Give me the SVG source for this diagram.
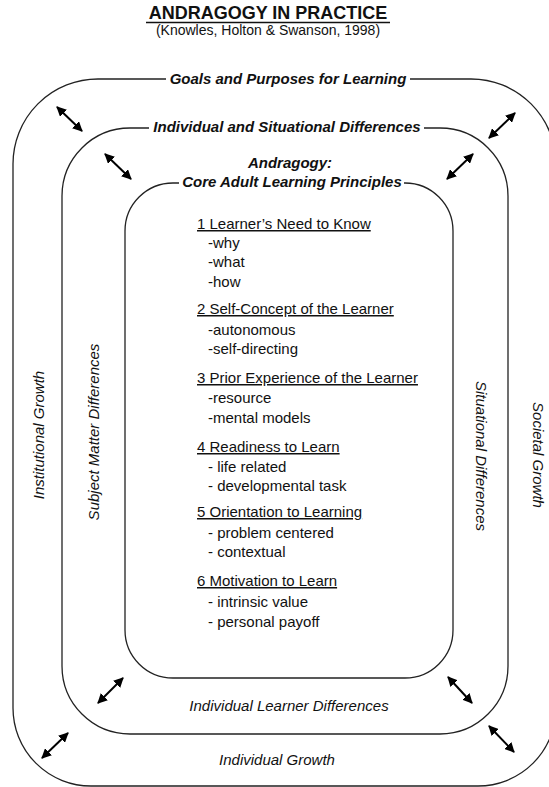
<svg xmlns="http://www.w3.org/2000/svg" width="549" height="787" viewBox="0 0 549 787">
<style>
.t{font-family:"Liberation Sans",Arial,sans-serif;fill:#111}
.bi{font-weight:bold;font-style:italic;font-size:15px}
.it{font-style:italic;font-size:15px}
.b{font-size:15px}
.u{text-decoration:underline}
.ring{fill:none;stroke:#222;stroke-width:1.3}
.arr{stroke:#000;stroke-width:2}
</style>
<defs>
<marker id="ah" viewBox="0 0 10 10" refX="9" refY="5" markerWidth="10" markerHeight="10" markerUnits="userSpaceOnUse" orient="auto-start-reverse">
<path d="M0,0 L10,5 L0,10 z" fill="#000"/>
</marker>
</defs>
<rect width="549" height="787" fill="#fff"/>
<g id="title">
<text class="t" x="268" y="19" text-anchor="middle" font-weight="bold" font-size="18">ANDRAGOGY IN PRACTICE</text>
<line x1="146" y1="22.5" x2="390" y2="22.5" stroke="#111" stroke-width="1.6"/>
<text class="t" x="268" y="35" text-anchor="middle" font-size="14">(Knowles, Holton &amp; Swanson, 1998)</text>
</g>
<g id="outer">
<path class="ring" d="M166,79 H98 A85,85 0 0 0 13,164 V708 A78,78 0 0 0 91,786 H478 A78,78 0 0 0 556,708 V164 A85,85 0 0 0 471,79 H410"/>
<text class="t bi" x="288" y="84" text-anchor="middle">Goals and Purposes for Learning</text>
<text class="t it" transform="translate(44,435) rotate(-90)" text-anchor="middle">Institutional Growth</text>
<text class="t it" transform="translate(533,455) rotate(90)" text-anchor="middle">Societal Growth</text>
<text class="t it" x="277" y="765" text-anchor="middle">Individual Growth</text>
</g>
<g id="middle">
<path class="ring" d="M149,128 H130 A68,68 0 0 0 62,196 V666 A68,68 0 0 0 130,734 H440 A68,68 0 0 0 508,666 V196 A68,68 0 0 0 440,128 H424"/>
<text class="t bi" x="287" y="132" text-anchor="middle">Individual and Situational Differences</text>
<text class="t it" transform="translate(99,432) rotate(-90)" text-anchor="middle">Subject Matter Differences</text>
<text class="t it" transform="translate(476,456) rotate(90)" text-anchor="middle">Situational Differences</text>
<text class="t it" x="289" y="711" text-anchor="middle">Individual Learner Differences</text>
</g>
<g id="core">
<path class="ring" d="M179,183 H173 A48,48 0 0 0 125,231 V630 A48,48 0 0 0 173,678 H405 A48,48 0 0 0 453,630 V231 A48,48 0 0 0 405,183 H404"/>
<text class="t bi" x="290" y="168" text-anchor="middle">Andragogy:</text>
<text class="t bi" x="292" y="187" text-anchor="middle">Core Adult Learning Principles</text>
<g class="t b">
<text class="u" x="197" y="229">1 Learner’s Need to Know</text>
<text x="208" y="248">-why</text>
<text x="208" y="267">-what</text>
<text x="208" y="287">-how</text>
<text class="u" x="197" y="314">2 Self-Concept of the Learner</text>
<text x="208" y="335">-autonomous</text>
<text x="208" y="354">-self-directing</text>
<text class="u" x="197" y="383">3 Prior Experience of the Learner</text>
<text x="208" y="403">-resource</text>
<text x="208" y="423">-mental models</text>
<text class="u" x="197" y="452">4 Readiness to Learn</text>
<text x="208" y="472">- life related</text>
<text x="208" y="491">- developmental task</text>
<text class="u" x="197" y="517">5 Orientation to Learning</text>
<text x="208" y="538">- problem centered</text>
<text x="208" y="557">- contextual</text>
<text class="u" x="197" y="586">6 Motivation to Learn</text>
<text x="208" y="607">- intrinsic value</text>
<text x="208" y="627">- personal payoff</text>
</g>
</g>
<g id="connectors" class="arr" marker-start="url(#ah)" marker-end="url(#ah)">
<line x1="57" y1="107" x2="82" y2="131"/>
<line x1="105" y1="154" x2="131" y2="179"/>
<line x1="515" y1="113" x2="489" y2="138"/>
<line x1="473" y1="154" x2="447" y2="179"/>
<line x1="123" y1="678" x2="98" y2="703"/>
<line x1="68" y1="733" x2="42" y2="758"/>
<line x1="448" y1="677" x2="472" y2="703"/>
<line x1="489" y1="726" x2="514" y2="752"/>
</g>
</svg>
